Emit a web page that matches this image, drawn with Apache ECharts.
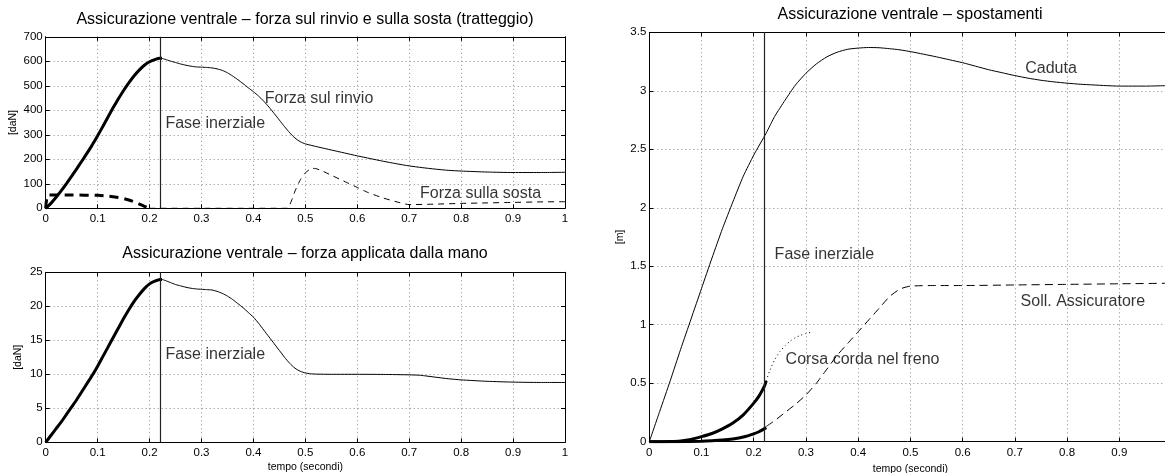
<!DOCTYPE html>
<html>
<head>
<meta charset="utf-8">
<script src="https://cdn.jsdelivr.net/npm/echarts@6/dist/echarts.min.js"></script>
<style>
html,body{margin:0;padding:0;background:#fff;}
#main{width:1165px;height:473px;}
</style>
</head>
<body>
<div id="main"></div>
<script>
// ---------- DATA ----------
const tInerziale = 0.224;
const xTicks = [0, 1, 0.1];           // min, max, interval (time axis)
const yTicksRinvio = [0, 700, 100];
const yTicksMano = [0, 25, 5];
const yTicksSpost = [0, 3.5, 0.5];

const titles = [
  'Assicurazione ventrale \u2013 forza sul rinvio e sulla sosta (tratteggio)',
  'Assicurazione ventrale \u2013 forza applicata dalla mano',
  'Assicurazione ventrale \u2013 spostamenti'
];

// Top-left: forza sul rinvio (solid), thick in inertial phase
const rinvioThickT = [0,0.01,0.02,0.03,0.04,0.05,0.06,0.07,0.08,0.09,0.1,0.11,0.12,0.13,0.14,0.15,0.16,0.17,0.18,0.19,0.2,0.21,0.22,0.224];
const rinvioThickV = [0,20,45,72,101,131,162,194,226,260,296,334,373,411,447,481,512,540,564,584,598,607,612,612];
const rinvioT = [0.224,0.23,0.24,0.25,0.26,0.27,0.28,0.29,0.3,0.31,0.32,0.33,0.34,0.35,0.36,0.37,0.38,0.39,0.4,0.41,0.42,0.43,0.44,0.45,0.46,0.47,0.48,0.49,0.5,0.525,0.55,0.575,0.6,0.625,0.65,0.675,0.7,0.725,0.75,0.775,0.8,0.85,0.9,0.95,1.0];
const rinvioV = [612,608,601,595,589,584,580,577,576,575,573,569,563,553,540,525,509,492,476,458,437,413,387,360,333,308,287,272,263,250,238,226,214,203,192,182,173,166,160,155,152,148,146,146,147];

// Top-left: forza sulla sosta (dashed)
const sostaThickT = [0,0.005,0.05,0.1,0.12,0.14,0.16,0.175,0.19,0.2];
const sostaThickV = [0,54,54,53,50,44,34,22,8,0];
const sostaT = [0.2,0.3,0.4,0.465,0.47,0.475,0.48,0.49,0.5,0.51,0.515,0.52,0.53,0.55,0.58,0.6,0.62,0.65,0.68,0.7,0.75,0.8,0.85,0.9,0.95,1.0];
const sostaV = [0,0,0,0,15,40,70,115,145,160,163,162,155,135,105,85,65,42,24,15,17,20,22,24,26,27];

// Bottom-left: forza applicata dalla mano
const manoThickT = [0,0.01,0.02,0.03,0.04,0.05,0.06,0.07,0.08,0.09,0.1,0.11,0.12,0.13,0.14,0.15,0.16,0.17,0.18,0.19,0.2,0.21,0.22,0.224];
const manoThickV = [0,1.0,2.0,3.0,4.1,5.2,6.3,7.5,8.7,9.9,11.2,12.6,14.0,15.4,16.8,18.2,19.5,20.7,21.7,22.6,23.3,23.7,23.95,23.95];
const manoT = [0.224,0.23,0.24,0.25,0.26,0.27,0.28,0.29,0.3,0.31,0.32,0.33,0.34,0.35,0.36,0.37,0.38,0.39,0.4,0.41,0.42,0.43,0.44,0.45,0.46,0.47,0.48,0.49,0.5,0.51,0.52,0.55,0.6,0.65,0.7,0.72,0.73,0.75,0.775,0.8,0.85,0.9,0.95,1.0];
const manoV = [23.95,23.8,23.5,23.2,23.0,22.8,22.65,22.55,22.5,22.45,22.4,22.2,21.9,21.5,21.0,20.4,19.8,19.1,18.4,17.5,16.5,15.5,14.5,13.5,12.5,11.6,10.9,10.45,10.2,10.08,10.03,10.0,10.0,9.98,9.92,9.86,9.78,9.58,9.35,9.18,8.97,8.85,8.8,8.8];

// Right: spostamenti
const cadutaT = [0,0.02,0.04,0.06,0.08,0.1,0.12,0.14,0.16,0.18,0.2,0.224,0.24,0.26,0.28,0.3,0.32,0.34,0.36,0.38,0.4,0.42,0.44,0.46,0.48,0.5,0.525,0.55,0.575,0.6,0.625,0.65,0.675,0.7,0.725,0.75,0.775,0.8,0.825,0.85,0.875,0.9,0.95,1.0];
const cadutaV = [0,0.26,0.52,0.79,1.05,1.31,1.57,1.82,2.05,2.27,2.45,2.64,2.78,2.92,3.05,3.15,3.23,3.29,3.33,3.355,3.365,3.37,3.368,3.36,3.35,3.335,3.313,3.29,3.265,3.24,3.21,3.18,3.155,3.13,3.108,3.09,3.076,3.065,3.056,3.05,3.044,3.04,3.04,3.045];
const corsaThickT = [0,0.02,0.04,0.06,0.08,0.1,0.12,0.14,0.16,0.18,0.2,0.21,0.22,0.224];
const corsaThickV = [0,0.0005,0.002,0.007,0.02,0.043,0.07,0.11,0.16,0.23,0.33,0.39,0.47,0.52];
const corsaT = [0.224,0.23,0.24,0.25,0.26,0.27,0.28,0.29,0.3,0.31];
const corsaV = [0.52,0.6,0.7,0.77,0.82,0.86,0.89,0.91,0.925,0.935];
const sollThickT = [0,0.05,0.1,0.12,0.14,0.16,0.18,0.2,0.21,0.224];
const sollThickV = [0,0.0005,0.004,0.008,0.014,0.024,0.04,0.067,0.085,0.12];
const sollT = [0.224,0.24,0.26,0.28,0.3,0.32,0.34,0.36,0.38,0.4,0.42,0.44,0.46,0.48,0.5,0.55,0.6,0.7,0.8,0.9,1.0];
const sollV = [0.13,0.18,0.25,0.32,0.40,0.5,0.62,0.74,0.84,0.94,1.04,1.14,1.24,1.305,1.33,1.335,1.335,1.34,1.345,1.35,1.355];

// Annotations: [text, t, value]
const notesRinvio = [['Forza sul rinvio',0.421,446],['Fase inerziale',0.2296,345],['Forza sulla sosta',0.72,58]];
const notesMano = [['Fase inerziale',0.2296,12.9]];
const notesSpost = [['Caduta',0.719,3.19],['Fase inerziale',0.239,1.6],['Soll. Assicuratore',0.71,1.2],['Corsa corda nel freno',0.26,0.70]];

// ---------- CHART ----------
const FONT = '"Liberation Sans", Arial, Helvetica, sans-serif';
const zip = (a, b) => a.map((x, i) => [x, b[i]]);

const grids = [
  {left: 45.7, top: 36.8, width: 519.3, height: 171.5, outerBoundsMode: 'none', containLabel: false},
  {left: 45.7, top: 272.3, width: 519.3, height: 170, outerBoundsMode: 'none', containLabel: false},
  {left: 649.3, top: 32.3, width: 522.2, height: 409.4, outerBoundsMode: 'none', containLabel: false}
];

const gridLine = {show: true, lineStyle: {color: '#8a8a8a', width: 1, type: [1, 3]}};
const blackLine = {show: true, onZero: false, lineStyle: {color: '#000', width: 1}};
const tick = {show: true, inside: true, length: 4, lineStyle: {color: '#000', width: 1}};

function xAxesFor(g, withName) {
  return [
    {type: 'value', gridIndex: g, position: 'bottom', min: xTicks[0], max: xTicks[1], interval: xTicks[2],
     axisLine: blackLine, axisTick: tick, splitLine: gridLine,
     axisLabel: {color: '#000', fontSize: 11.5, margin: 5, fontFamily: FONT},
     name: withName ? 'tempo (secondi)' : '', nameLocation: 'middle', nameGap: 19,
     nameTextStyle: {color: '#000', fontSize: 10.5, fontFamily: FONT}},
    {type: 'value', gridIndex: g, position: 'top', min: xTicks[0], max: xTicks[1], interval: xTicks[2],
     axisLine: blackLine, axisTick: tick, splitLine: {show: false}, axisLabel: {show: false}}
  ];
}
function yAxesFor(g, ticks, name, gap) {
  return [
    {type: 'value', gridIndex: g, position: 'left', min: ticks[0], max: ticks[1], interval: ticks[2],
     axisLine: blackLine, axisTick: tick, splitLine: gridLine,
     axisLabel: {color: '#000', fontSize: 11.5, margin: 3, fontFamily: FONT},
     name: name, nameLocation: 'middle', nameGap: gap, nameRotate: 90,
     nameTextStyle: {color: '#000', fontSize: 10.5, fontFamily: FONT}},
    {type: 'value', gridIndex: g, position: 'right', min: ticks[0], max: ticks[1], interval: ticks[2],
     axisLine: blackLine, axisTick: tick, splitLine: {show: false}, axisLabel: {show: false}}
  ];
}

const xAxis = [...xAxesFor(0, false), ...xAxesFor(1, true), ...xAxesFor(2, true)];
const yAxis = [...yAxesFor(0, yTicksRinvio, '[daN]', 27), ...yAxesFor(1, yTicksMano, '[daN]', 22), ...yAxesFor(2, yTicksSpost, '[m]', 24)];

function line(g, t, v, width, type, extra) {
  return Object.assign({
    type: 'line', xAxisIndex: g * 2, yAxisIndex: g * 2, data: zip(t, v),
    symbol: 'none', showSymbol: false, smooth: 0.2, silent: true,
    lineStyle: {color: '#000', width: width, type: type, cap: 'butt'}
  }, extra || {});
}
function vline() {
  return {symbol: 'none', silent: true, label: {show: false},
          lineStyle: {color: '#222', width: 1.2, type: 'solid'}, data: [{xAxis: tInerziale}]};
}
function notes(g, list) {
  return {
    type: 'scatter', xAxisIndex: g * 2, yAxisIndex: g * 2, silent: true, symbolSize: 1,
    itemStyle: {color: 'rgba(0,0,0,0)'},
    data: list.map(n => ({name: n[0], value: [n[1], n[2]]})),
    label: {show: true, position: 'right', distance: 0, formatter: '{b}', color: '#000',
            fontSize: 16, fontFamily: FONT}
  };
}

const series = [
  line(0, rinvioThickT, rinvioThickV, 3, 'solid', {markLine: vline()}),
  line(0, rinvioT, rinvioV, 1, 'solid'),
  line(0, sostaThickT, sostaThickV, 3, [9, 6]),
  line(0, sostaT, sostaV, 1, [6, 5]),
  notes(0, notesRinvio),

  line(1, manoThickT, manoThickV, 3, 'solid', {markLine: vline()}),
  line(1, manoT, manoV, 1, 'solid'),
  notes(1, notesMano),

  line(2, cadutaT, cadutaV, 1, 'solid', {markLine: vline()}),
  line(2, corsaThickT, corsaThickV, 3, 'solid'),
  line(2, corsaT, corsaV, 1, [1, 3]),
  line(2, sollThickT, sollThickV, 3, 'solid'),
  line(2, sollT, sollV, 1, [8, 5]),
  notes(2, notesSpost)
];

const titleStyle = {color: '#000', fontSize: 16, fontWeight: 'normal', fontFamily: FONT};
const option = {
  animation: false,
  backgroundColor: '#fff',
  title: [
    {text: titles[0], left: 305, top: 12, textAlign: 'center', padding: 0, textStyle: titleStyle},
    {text: titles[1], left: 305, top: 246, textAlign: 'center', padding: 0, textStyle: titleStyle},
    {text: titles[2], left: 910, top: 7, textAlign: 'center', padding: 0, textStyle: titleStyle}
  ],
  grid: grids,
  xAxis: xAxis,
  yAxis: yAxis,
  series: series
};

const chart = echarts.init(document.getElementById('main'), null, {renderer: 'canvas'});
chart.setOption(option);
</script>
</body>
</html>
